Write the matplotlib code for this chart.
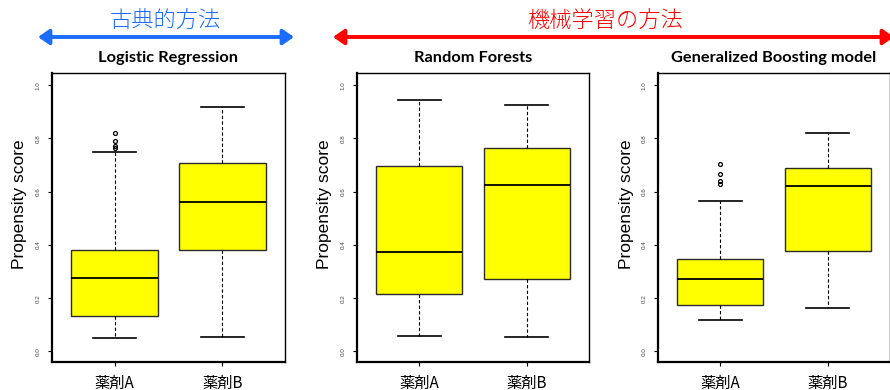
import matplotlib
matplotlib.use("Agg")
import matplotlib.pyplot as plt
from matplotlib.patches import FancyArrowPatch

W, H = 890, 390

drugs = ["薬剤A", "薬剤B"]
models = ["Logistic Regression", "Random Forests", "Generalized Boosting model"]

# box statistics per model, each row = [薬剤A, 薬剤B]
whis_lo = [[0.049, 0.054], [0.058, 0.054], [0.117, 0.162]]
q1 = [[0.134, 0.382], [0.216, 0.273], [0.175, 0.378]]
median = [[0.276, 0.563], [0.375, 0.624], [0.273, 0.622]]
q3 = [[0.382, 0.708], [0.695, 0.764], [0.348, 0.689]]
whis_hi = [[0.751, 0.919], [0.945, 0.925], [0.566, 0.821]]
outliers = [
    [[0.763, 0.773, 0.791, 0.821], []],
    [[], []],
    [[0.629, 0.639, 0.668, 0.704], []],
]

yticks = [0.0, 0.2, 0.4, 0.6, 0.8, 1.0]

# header labels over the panels
groups = ["古典的方法", "機械学習の方法"]
group_colors = ["#1a6dff", "#ff0000"]

# panel frames in pixels (left, right); top/bottom shared
frames = [(52, 285), (357, 589), (658, 890)]
top, bottom = 73, 362
group_spans = [(38, 294), (333, 894)]
group_text_x = [165, 605]

fig = plt.figure(figsize=(W / 100, H / 100), dpi=100)

for i, name in enumerate(models):
    l, r = frames[i]
    ax = fig.add_axes([l / W, (H - bottom) / H, (r - l) / W, (bottom - top) / H])
    stats = []
    for j in range(2):
        stats.append(dict(whislo=whis_lo[i][j], q1=q1[i][j], med=median[i][j],
                          q3=q3[i][j], whishi=whis_hi[i][j], fliers=outliers[i][j]))
    ax.bxp(stats, positions=[1, 2], widths=0.8, patch_artist=True,
           boxprops=dict(facecolor="#ffff00", edgecolor="#2b2b2b", lw=1.0),
           medianprops=dict(color="black", lw=1.3),
           whiskerprops=dict(color="black", lw=0.8, ls=(0, (3, 2))),
           capprops=dict(color="black", lw=1.2), capwidths=0.4,
           flierprops=dict(marker="o", ms=2.8, mfc="none", mec="black", mew=0.9))
    ax.set_xlim(0.42, 2.58)
    ax.set_ylim(-0.04, 1.046)
    ax.set_xticks([1, 2])
    ax.set_xticklabels(drugs, family=["Noto Sans CJK JP", "DejaVu Sans"], fontsize=11)
    ax.set_yticks(yticks)
    ax.set_yticklabels([f"{t:.1f}" for t in yticks], rotation=90, va="center",
                       fontsize=4.5, color="#444444", family="Liberation Sans")
    ax.tick_params(axis="x", length=3, pad=6)
    ax.tick_params(axis="y", length=3, pad=5)
    for side in ["left", "bottom"]:
        ax.spines[side].set_linewidth(1.6)
    for side in ["top", "right"]:
        ax.spines[side].set_linewidth(1.0)
    ax.text(0.5, 1 + 15 / (bottom - top), name, transform=ax.transAxes,
            ha="center", va="center", fontsize=11.8, fontweight="bold", family="Lato")
    ax.text(-32 / (r - l), (bottom - 204) / (bottom - top), "Propensity score",
            transform=ax.transAxes, rotation=90, ha="center", va="center",
            fontsize=12.5, family="Liberation Sans")

# arrows and labels marking classical vs machine-learning methods
for k, label in enumerate(groups):
    x0, x1 = group_spans[k]
    arr = FancyArrowPatch((x0 / W, 1 - 37 / H), (x1 / W, 1 - 37 / H),
                          transform=fig.transFigure,
                          arrowstyle="<|-|>,head_length=0.65,head_width=0.45",
                          mutation_scale=10, lw=2.8, color=group_colors[k],
                          shrinkA=0, shrinkB=0)
    fig.patches.append(arr)
    fig.text(group_text_x[k] / W, 1 - 21 / H, label, color=group_colors[k],
             ha="center", va="center", fontsize=16, fontweight="light",
             family=["Noto Sans CJK JP", "DejaVu Sans"])

fig.savefig("out.png", dpi=100)
